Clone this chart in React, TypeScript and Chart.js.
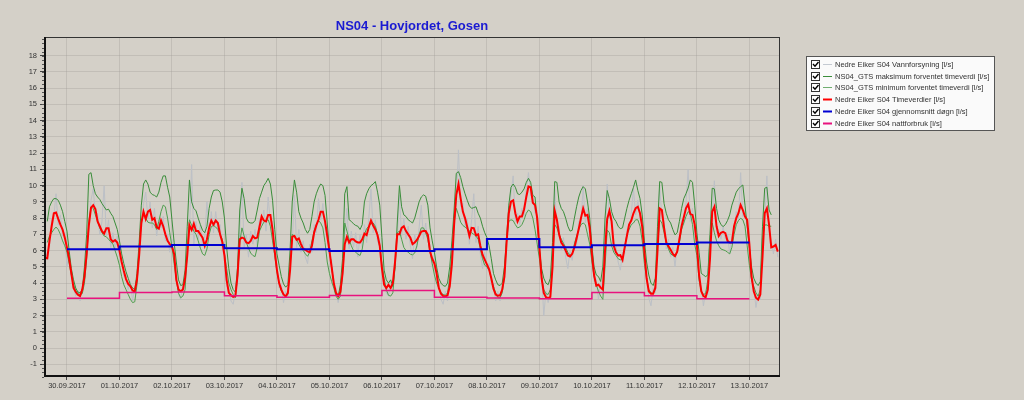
import React, { useEffect, useRef } from "react";
import { Chart, registerables } from "chart.js";

Chart.register(...registerables);

const chartTitle = "NS04 - Hovjordet, Gosen";

const seriesLabels = [
  "Nedre Eiker S04 Vannforsyning [l/s]",
  "NS04_GTS maksimum forventet timeverdi [l/s]",
  "NS04_GTS minimum forventet timeverdi [l/s]",
  "Nedre Eiker S04 Timeverdier [l/s]",
  "Nedre Eiker S04 gjennomsnitt døgn [l/s]",
  "Nedre Eiker S04 nattforbruk [l/s]",
];

// x ticks: hours since 30.09.2017 00:00
const tickHours = [0, 24, 48, 72, 96, 120, 144, 168, 192, 216, 240, 264, 288, 312];
const dateLabels = [
  "30.09.2017", "01.10.2017", "02.10.2017", "03.10.2017", "04.10.2017", "05.10.2017", "06.10.2017",
  "07.10.2017", "08.10.2017", "09.10.2017", "10.10.2017", "11.10.2017", "12.10.2017", "13.10.2017",
];
const yTicks = [-1, 0, 1, 2, 3, 4, 5, 6, 7, 8, 9, 10, 11, 12, 13, 14, 15, 16, 17, 18];

// hourly series, first value at hour -10 (29.09.2017 14:00)
const hourlyStart = -10;
const timeverdier = [
  5.55, 5.53, 6.6, 7.5, 8.3, 8.35, 7.95, 7.6, 7.3, 6.8,
  6.2, 5.5, 4.6, 3.7, 3.45, 3.28, 3.2, 3.6, 4.4, 5.8,
  7.55, 8.65, 8.8, 8.55, 7.8, 7.5, 7.2, 7.05, 7.38, 7.38,
  6.7, 6.55, 6.65, 6.5, 6.0, 5.3, 4.75, 4.25, 3.95, 3.8,
  3.55, 3.48, 4.2, 5.7, 7.7, 8.4, 7.95, 8.4, 8.5, 7.9,
  8.0, 7.45, 7.35, 7.85, 7.5, 7.0, 6.6, 6.4, 6.25, 5.8,
  4.2, 3.6, 3.5, 3.6, 4.3, 5.7, 7.55, 7.27, 7.65, 7.2,
  7.2, 7.0, 6.8, 6.3, 6.7, 7.4, 7.85, 7.6, 7.85, 7.7,
  7.0, 6.55, 5.7, 4.2, 3.4, 3.25, 3.15, 3.2, 4.5, 6.7,
  6.8, 6.75, 6.5, 6.46, 6.6, 6.9, 6.75, 6.8, 7.45, 8.1,
  7.85, 7.8, 8.2, 8.2, 7.3, 5.95, 4.8, 4.0, 3.6, 3.3,
  3.18, 3.4, 4.8, 6.86, 6.9, 6.66, 6.75, 6.4, 6.1, 6.05,
  5.95, 5.9, 6.3, 7.1, 7.55, 7.9, 8.4, 8.4, 7.8, 6.9,
  6.0, 5.0, 4.0, 3.4, 3.2, 3.45, 4.6, 6.4, 6.85, 6.5,
  6.7, 6.7, 6.56, 6.5, 6.5, 6.7, 7.05, 6.95, 7.45, 7.85,
  7.55, 7.3, 6.95, 6.3, 4.9, 3.9, 3.69, 3.9, 3.7, 4.0,
  5.3, 7.0, 7.0, 7.4, 7.5, 7.2, 7.0, 6.8, 6.4, 6.5,
  6.66, 6.9, 7.17, 7.2, 7.2, 6.97, 5.95, 5.5, 5.2, 4.6,
  3.7, 3.35, 3.2, 3.18, 3.25, 3.8, 5.2, 7.6, 9.43, 10.1,
  9.2, 8.4, 8.0, 7.45, 6.9, 7.4, 7.38, 6.95, 7.0, 6.3,
  5.75, 5.45, 5.15, 4.85, 4.3, 3.65, 3.3, 3.22, 3.25, 3.6,
  4.4, 6.5, 8.3, 9.02, 9.1, 8.3, 7.79, 8.1, 8.1, 8.55,
  9.3, 9.95, 9.9, 8.95, 8.8, 8.0, 6.2, 4.3, 3.4, 3.13,
  3.07, 3.15, 5.0, 8.45, 7.9, 7.0, 6.5, 6.3, 6.0, 5.7,
  5.64, 5.8, 6.2, 6.75, 7.35, 8.0, 8.6, 8.15, 8.2, 7.4,
  5.8, 4.5, 3.85, 3.9, 3.72, 3.6, 6.0, 7.95, 8.45, 7.8,
  6.3, 5.9, 5.7, 5.72, 5.43, 6.2, 6.9, 7.6, 7.85, 8.3,
  8.61, 8.7, 8.3, 7.48, 5.9, 4.3, 3.5, 3.35, 3.35, 3.7,
  6.0, 8.6, 8.5, 7.4, 6.5, 6.27, 6.05, 5.8, 5.67, 5.94,
  6.7, 7.5, 8.05, 8.6, 8.85, 8.25, 8.2, 7.6, 6.4, 4.5,
  3.5, 3.2, 3.13, 3.6, 5.5, 8.4, 8.7, 7.5, 6.9, 7.1,
  7.15, 7.08, 6.6, 6.5, 6.5, 7.5, 8.0, 8.3, 8.81, 8.5,
  8.1, 7.89, 6.4, 4.4, 3.5, 3.1, 2.98, 3.3, 5.6, 8.3,
  8.6, 7.6, 6.2, 6.25, 6.35, 5.94,
];

const vannforsyning = [
  5.3, 5.9, 6.2, 7.9, 8.1, 9.5, 7.6, 8.2, 6.9, 7.1,
  5.0, 5.9, 4.3, 3.9, 3.2, 3.5, 2.9, 3.8, 4.1, 6.3,
  7.2, 9.1, 9.8, 8.2, 8.3, 7.0, 7.8, 10.0, 6.9, 7.9,
  6.2, 7.1, 6.1, 6.9, 5.6, 5.6, 4.4, 4.5, 3.6, 4.1,
  2.9, 3.7, 3.9, 6.2, 7.3, 8.9, 9.6, 8.0, 9.0, 7.4,
  8.6, 6.9, 7.9, 7.4, 8.1, 6.6, 7.0, 5.9, 6.7, 5.4,
  4.5, 3.3, 3.0, 3.9, 4.0, 6.3, 7.1, 11.3, 6.4, 7.8,
  6.7, 7.6, 6.3, 6.9, 9.0, 6.9, 8.4, 7.1, 8.4, 7.2,
  7.6, 6.0, 6.1, 3.8, 3.7, 2.9, 2.7, 3.5, 4.1, 7.2,
  10.2, 6.2, 7.0, 5.6, 7.2, 6.4, 7.3, 6.3, 8.0, 7.6,
  8.5, 7.2, 9.3, 7.6, 7.8, 5.5, 5.2, 3.7, 3.9, 2.8,
  3.5, 3.1, 5.3, 6.4, 9.4, 6.2, 7.3, 5.9, 6.6, 5.6,
  5.2, 6.4, 5.9, 7.6, 7.1, 9.2, 7.9, 8.9, 7.3, 7.4,
  5.6, 5.4, 3.7, 3.7, 2.8, 3.8, 4.2, 7.0, 8.6, 6.1,
  7.2, 6.2, 7.1, 5.6, 7.0, 6.2, 7.6, 6.5, 8.0, 9.8,
  7.1, 7.9, 6.5, 6.8, 4.5, 4.3, 3.4, 3.2, 4.1, 3.7,
  5.8, 6.6, 9.4, 6.9, 8.0, 6.7, 7.5, 6.3, 5.5, 7.0,
  6.2, 7.4, 8.8, 6.7, 7.7, 6.5, 6.4, 5.0, 5.7, 4.2,
  4.0, 3.0, 2.7, 3.5, 2.9, 4.2, 4.8, 8.1, 9.0, 12.2,
  8.7, 8.9, 7.5, 8.0, 6.4, 7.9, 9.5, 6.5, 7.5, 5.8,
  4.9, 5.9, 4.8, 5.2, 3.9, 4.0, 2.9, 3.5, 2.9, 3.9,
  4.0, 7.0, 7.9, 9.5, 10.6, 7.8, 8.3, 7.6, 8.6, 8.1,
  9.8, 10.8, 9.4, 9.4, 8.3, 8.5, 5.7, 4.7, 2.0, 3.5,
  2.8, 3.4, 4.6, 9.8, 7.4, 7.5, 6.0, 6.8, 5.6, 4.9,
  6.0, 5.4, 6.6, 6.3, 7.8, 7.6, 10.0, 7.7, 8.6, 6.9,
  6.2, 4.1, 4.2, 3.0, 4.1, 3.3, 6.5, 10.1, 8.0, 8.2,
  5.9, 6.3, 5.3, 4.8, 5.9, 5.8, 7.3, 7.2, 8.3, 9.8,
  8.2, 9.1, 7.9, 7.9, 5.5, 4.7, 3.1, 2.6, 3.7, 3.4,
  6.4, 10.0, 8.0, 7.8, 6.1, 6.7, 5.6, 6.2, 5.0, 6.3,
  6.3, 7.9, 7.6, 8.9, 11.0, 7.8, 8.6, 7.2, 6.8, 4.1,
  3.8, 2.6, 3.5, 3.3, 5.9, 8.0, 10.3, 7.1, 7.3, 6.7,
  7.5, 6.7, 7.0, 5.8, 6.9, 7.1, 8.4, 7.9, 10.8, 8.1,
  8.5, 7.5, 6.0, 4.0, 3.8, 2.5, 3.3, 3.0, 6.3, 7.8,
  10.6, 7.2, 6.6, 5.8, 6.7, 5.6,
];

// expected hourly envelope, first value at hour -9
const expectedStart = -9;
const maksimum = [
  7.8, 8.7, 9.0, 9.2, 9.2, 9.1, 8.8, 8.4, 7.8,
  7.2, 6.0, 4.9, 4.2, 3.7, 3.45, 3.4, 3.6, 5.0, 7.0,
  10.7, 10.8, 10.0, 9.5, 9.3, 9.15, 8.9, 8.7, 8.5, 8.55,
  8.3, 8.1, 7.7, 7.3, 6.6, 5.8, 5.2, 4.7, 4.3, 3.9,
  3.7, 3.6, 4.6, 6.5, 8.8, 10.1, 10.35, 10.1, 9.6, 9.45,
  9.4, 9.3, 9.6, 10.2, 10.6, 10.6, 9.9, 9.3, 7.9, 6.5,
  5.3, 4.2, 3.85, 3.9, 4.8, 7.5, 10.35, 9.0, 8.6, 8.45,
  8.0, 7.6, 7.25, 7.1, 7.5, 8.6, 9.3, 9.7, 9.73, 9.73,
  9.6, 9.0, 8.0, 6.2, 4.9, 4.0, 3.6, 3.45, 5.0, 8.5,
  9.84, 9.2, 8.0, 7.75, 7.7, 7.7, 7.85, 8.5, 9.2, 9.6,
  10.0, 10.2, 10.45, 10.1, 9.1, 7.3, 5.8, 5.1, 4.4, 3.95,
  3.75, 3.9, 6.0, 9.0, 10.35, 9.6, 8.4, 8.0, 7.7, 7.3,
  7.07, 7.3, 8.1, 9.0, 9.5, 9.85, 10.1, 10.0, 9.4, 7.7,
  6.0, 5.0, 3.9, 3.3, 3.17, 3.9, 5.5, 9.5, 9.94, 7.9,
  7.8, 7.65, 7.55, 7.5, 7.3, 7.6, 9.0, 9.5, 9.8, 10.0,
  10.1, 10.25, 9.6, 8.8, 6.8, 4.8, 4.2, 4.0, 4.2, 3.8,
  5.0, 7.7, 10.0, 8.7, 8.2, 8.1, 7.9, 7.8, 7.7, 8.0,
  8.5, 9.0, 9.3, 9.43, 9.35, 8.8, 7.4, 6.6, 5.9, 5.0,
  4.3, 4.0, 3.85, 3.8, 4.0, 5.0, 6.6, 8.5, 10.76, 10.86,
  10.5, 9.94, 9.5, 9.1, 8.75, 8.6, 8.65, 8.7, 8.3, 8.0,
  7.5, 7.1, 6.8, 6.3, 5.5, 4.6, 4.2, 3.9, 3.85, 4.0,
  5.0, 6.8, 8.8, 9.9, 10.1, 9.9, 9.5, 9.45, 9.6, 9.8,
  10.2, 10.45, 10.2, 9.4, 9.3, 7.8, 6.1, 4.9, 4.3, 4.0,
  3.9, 4.3, 6.5, 10.25, 10.2, 9.0, 8.6, 8.4, 8.0, 7.5,
  7.2, 7.25, 8.0, 8.7, 9.3, 9.7, 9.94, 9.8, 9.0, 8.0,
  6.3, 5.0, 4.5, 4.4, 4.1, 5.0, 8.0, 9.7, 9.2, 8.4,
  8.0, 7.8, 7.5, 7.35, 7.4, 8.0, 8.6, 9.1, 9.5, 9.9,
  10.35, 9.7, 9.2, 8.2, 6.6, 5.3, 4.5, 4.0, 3.85, 4.3,
  7.5, 10.25, 10.2, 8.9, 8.3, 7.9, 7.7, 7.3, 6.97, 7.1,
  7.8, 8.6, 9.2, 9.5, 9.85, 10.35, 10.2, 8.8, 7.1, 5.9,
  4.6, 4.5, 4.4, 4.5, 7.0, 9.84, 9.8, 8.6, 7.9, 7.6,
  7.48, 7.6, 7.85, 8.2, 8.8, 9.2, 9.6, 9.8, 9.94, 10.04,
  8.8, 7.5, 6.2, 5.0, 4.3, 4.0, 3.85, 4.1, 7.5, 9.84,
  9.9, 8.5, 8.2,
];

const minimum = [
  6.5, 6.9, 7.1, 7.3, 7.45, 7.3, 7.0, 6.6, 6.3,
  5.9, 5.2, 4.5, 3.9, 3.55, 3.35, 3.3, 3.35, 4.0, 5.5,
  7.8, 8.7, 8.6, 8.2, 7.8, 7.4, 7.1, 6.9, 6.85, 6.7,
  6.55, 6.4, 6.0, 5.6, 5.1, 4.4, 3.9, 3.6, 3.3, 3.0,
  2.8, 2.85, 3.9, 6.0, 7.8, 8.2, 8.0, 7.75, 7.7, 7.7,
  7.6, 7.3, 7.8, 8.4, 8.8, 8.7, 8.0, 7.1, 6.25, 5.2,
  4.2, 3.38, 3.1, 3.2, 3.6, 6.0, 7.9, 7.55, 7.2, 7.0,
  6.6, 6.15, 5.8, 5.7, 6.1, 7.0, 7.48, 7.55, 7.45, 7.3,
  7.0, 6.7, 5.8, 4.9, 4.0, 3.6, 3.3, 3.1, 4.4, 6.5,
  7.4, 6.9, 6.5, 6.15, 5.85, 5.7, 5.63, 6.2, 7.2, 7.5,
  7.75, 7.85, 7.9, 7.5, 6.6, 5.7, 4.7, 4.0, 3.5, 3.3,
  3.17, 3.3, 5.0, 7.0, 6.9, 6.7, 6.4, 6.15, 6.0, 5.8,
  5.65, 5.9, 6.6, 7.2, 7.6, 7.85, 7.7, 7.4, 6.5, 5.3,
  4.6, 4.1, 3.7, 3.2, 3.0, 3.2, 4.5, 7.7, 7.2, 6.7,
  6.3, 6.0, 5.9, 5.78, 5.7, 6.1, 7.0, 7.35, 7.5, 7.65,
  7.7, 7.5, 7.0, 6.2, 5.2, 4.3, 3.6, 3.25, 3.2, 3.4,
  5.0, 7.1, 7.2, 6.7, 6.2, 6.0, 5.9, 5.78, 5.74, 5.85,
  6.3, 7.0, 7.4, 7.4, 7.1, 6.7, 5.9, 5.2, 4.5, 4.0,
  3.7, 3.4, 3.3, 3.25, 3.4, 4.3, 6.0, 7.7, 8.6, 8.2,
  7.75, 7.55, 7.45, 7.35, 7.2, 7.1, 7.0, 6.9, 6.7, 6.1,
  5.5, 5.1, 5.0, 4.8, 4.3, 3.8, 3.4, 3.1, 3.1, 3.4,
  4.4, 6.6, 7.8, 7.9, 7.85, 7.6, 7.4, 7.45, 7.6, 7.9,
  8.3, 8.5, 8.4, 8.0, 7.3, 6.4, 5.5, 4.4, 3.6, 3.35,
  3.3, 3.6, 5.5, 7.6, 7.4, 7.0, 6.7, 6.45, 6.2, 5.9,
  5.7, 5.8, 6.4, 6.9, 7.3, 7.6, 7.7, 7.6, 7.0, 6.4,
  5.3, 4.4, 3.9, 3.5, 3.2, 3.0, 5.0, 7.27, 7.1, 6.3,
  5.9, 5.7, 5.5, 5.43, 5.5, 6.2, 7.0, 7.3, 7.6, 7.7,
  7.9, 7.9, 7.5, 6.6, 5.2, 4.3, 3.6, 3.4, 3.35, 3.8,
  6.3, 7.9, 7.7, 7.1, 6.5, 6.1, 5.8, 5.7, 5.63, 5.9,
  6.5, 7.3, 7.7, 8.1, 8.4, 8.3, 7.6, 6.4, 5.7, 4.2,
  3.5, 3.3, 3.35, 4.2, 6.8, 7.7, 7.1, 6.6, 6.3, 6.1,
  6.05, 6.0, 5.9, 5.8, 6.2, 7.0, 7.6, 7.85, 7.99, 7.9,
  7.5, 6.3, 5.1, 4.2, 3.8, 3.4, 3.2, 3.6, 6.8, 7.58,
  7.58, 7.5, 7.5,
];

// daily values, one per day from 30.09 to 12.10
const dayStartHours = [0, 24, 48, 72, 96, 120, 144, 168, 192, 216, 240, 264, 288];
const dayEndHour = 312;
const gjennomsnittDogn = [6.09, 6.25, 6.35, 6.15, 6.09, 5.98, 5.98, 6.09, 6.72, 6.21, 6.33, 6.41, 6.5];
const nattforbruk = [3.07, 3.42, 3.46, 3.22, 3.13, 3.24, 3.55, 3.13, 3.08, 3.03, 3.42, 3.22, 3.03];

const BG = "#d4d0c8";
const GRID = "rgba(160,158,152,0.35)";
const FONT = "'Liberation Sans', Arial, sans-serif";
const colors = ["#bcc0c6", "#3a8d3a", "#4e9e4e", "#ff0000", "#0000d2", "#e8137e"];
const legendColors = ["#c4cad2", "#3a8d3a", "#6fae6f", "#ff0000", "#0000d2", "#e8137e"];

const hourly = (start: number, vals: number[]) => vals.map((v, i) => ({ x: start + i, y: v }));
const daily = (vals: number[]) => [
  ...vals.map((v, i) => ({ x: dayStartHours[i], y: v })),
  { x: dayEndHour, y: vals[vals.length - 1] },
];

const decorPlugin = {
  id: "decor",
  beforeDraw(chart: any) {
    const ctx = chart.ctx;
    ctx.save();
    ctx.fillStyle = BG;
    ctx.fillRect(0, 0, chart.width, chart.height);
    ctx.restore();
  },
  afterDraw(chart: any) {
    const ctx = chart.ctx;
    const { left, top, right, bottom } = chart.chartArea;
    ctx.save();
    // frame
    ctx.strokeStyle = "#333";
    ctx.lineWidth = 1;
    ctx.strokeRect(left + 0.5, top + 0.5, right - left - 1, bottom - top - 1);
    ctx.strokeStyle = "#111";
    ctx.lineWidth = 2;
    ctx.beginPath();
    ctx.moveTo(left + 1, top);
    ctx.lineTo(left + 1, bottom - 1);
    ctx.lineTo(right, bottom - 1);
    ctx.stroke();
    // minor ticks on y axis
    ctx.strokeStyle = "#555";
    ctx.lineWidth = 1;
    const ys = chart.scales.y;
    for (let v = -1.75; v <= 19; v += 0.25) {
      const py = Math.round(ys.getPixelForValue(v)) + 0.5;
      ctx.beginPath();
      ctx.moveTo(left - 2, py);
      ctx.lineTo(left, py);
      ctx.stroke();
    }
    // title
    ctx.fillStyle = "#1a1ad2";
    ctx.font = `bold 13px ${FONT}`;
    ctx.textAlign = "center";
    ctx.textBaseline = "middle";
    ctx.fillText(chartTitle, (left + right) / 2, 26);
    // legend
    const bx = 806, by = 56, bw = 188, bh = 74;
    ctx.fillStyle = "#fafafa";
    ctx.fillRect(bx, by, bw, bh);
    ctx.strokeStyle = "#555";
    ctx.lineWidth = 1;
    ctx.strokeRect(bx + 0.5, by + 0.5, bw, bh);
    ctx.font = `7.5px ${FONT}`;
    ctx.textAlign = "left";
    ctx.textBaseline = "middle";
    chart.data.datasets.forEach((ds: any, i: number) => {
      const yy = Math.round(by + 8 + i * 11.7);
      ctx.fillStyle = "#fff";
      ctx.fillRect(811, yy - 4, 8, 8);
      ctx.strokeStyle = "#333";
      ctx.lineWidth = 1;
      ctx.strokeRect(811.5, yy - 3.5, 8, 8);
      ctx.strokeStyle = "#000";
      ctx.lineWidth = 1.4;
      ctx.beginPath();
      ctx.moveTo(813, yy);
      ctx.lineTo(815, yy + 2.2);
      ctx.lineTo(818.5, yy - 2);
      ctx.stroke();
      ctx.strokeStyle = legendColors[i];
      ctx.lineWidth = i >= 3 ? 2 : 1;
      ctx.beginPath();
      ctx.moveTo(823, yy + 0.5);
      ctx.lineTo(832, yy + 0.5);
      ctx.stroke();
      ctx.fillStyle = "#333";
      ctx.fillText(ds.label, 835, yy + 0.5);
    });
    ctx.restore();
  },
};

export default function App() {
  const ref = useRef<HTMLCanvasElement | null>(null);

  useEffect(() => {
    if (!ref.current) return;
    Chart.defaults.font.family = FONT;
    const chart = new Chart(ref.current, {
      type: "line",
      data: {
        datasets: [
          { label: seriesLabels[0], data: hourly(hourlyStart, vannforsyning), borderColor: colors[0], borderWidth: 1, order: 5 },
          { label: seriesLabels[1], data: hourly(expectedStart, maksimum), borderColor: colors[1], borderWidth: 1, order: 4 },
          { label: seriesLabels[2], data: hourly(expectedStart, minimum), borderColor: colors[2], borderWidth: 1, order: 3 },
          { label: seriesLabels[3], data: hourly(hourlyStart, timeverdier), borderColor: colors[3], borderWidth: 2, order: 2 },
          { label: seriesLabels[4], data: daily(gjennomsnittDogn), borderColor: colors[4], borderWidth: 2, stepped: true, order: 0 },
          { label: seriesLabels[5], data: daily(nattforbruk), borderColor: colors[5], borderWidth: 1.5, stepped: true, order: 1 },
        ] as any,
      },
      options: {
        responsive: false,
        animation: false,
        devicePixelRatio: 1,
        layout: { padding: { left: 0, top: 37, right: 244, bottom: 0 } },
        elements: { point: { radius: 0 }, line: { tension: 0 } },
        plugins: { legend: { display: false }, title: { display: false }, tooltip: { enabled: false } },
        scales: {
          x: {
            type: "linear",
            min: -10.5,
            max: 326,
            afterBuildTicks: (s: any) => {
              s.ticks = tickHours.map((v) => ({ value: v }));
            },
            afterFit: (s: any) => {
              s.height = 23;
            },
            ticks: {
              autoSkip: false,
              maxRotation: 0,
              padding: 1,
              color: "#333",
              font: { size: 7.5 },
              callback: (v: any) => dateLabels[tickHours.indexOf(Number(v))] ?? "",
            },
            grid: { color: GRID, tickColor: "#444", tickLength: 3 },
            border: { display: false },
          },
          y: {
            type: "linear",
            min: -1.78,
            max: 19.15,
            afterBuildTicks: (s: any) => {
              s.ticks = yTicks.map((v) => ({ value: v }));
            },
            afterFit: (s: any) => {
              s.width = 44;
            },
            ticks: {
              padding: 3,
              color: "#333",
              font: { size: 7.5 },
              callback: (v: any) => String(v),
            },
            grid: { color: GRID, tickColor: "#444", tickLength: 4 },
            border: { display: false },
          },
        },
      } as any,
      plugins: [decorPlugin],
    });
    return () => chart.destroy();
  }, []);

  return (
    <div style={{ position: "fixed", left: 0, top: 0, width: 1024, height: 400, background: BG }}>
      <canvas ref={ref} width={1024} height={400} style={{ display: "block" }} />
    </div>
  );
}
